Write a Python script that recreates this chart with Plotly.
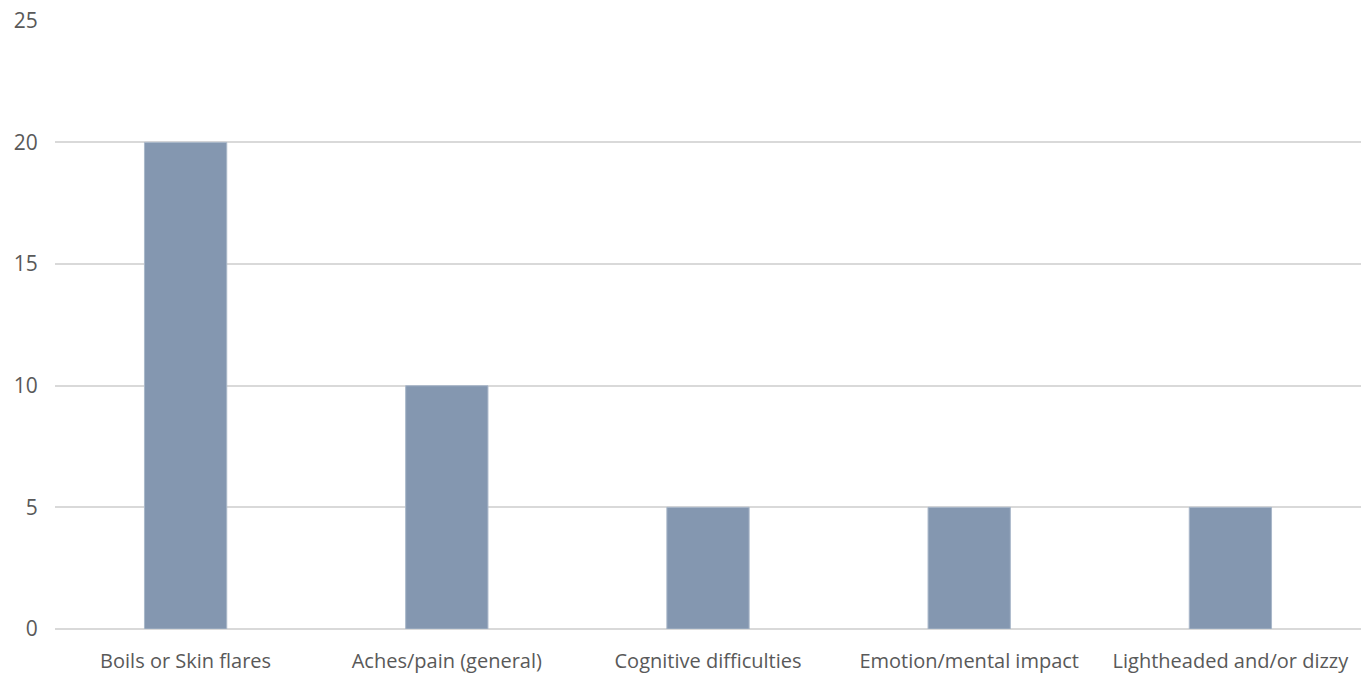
import plotly.graph_objects as go

categories = ["Boils or Skin flares", "Aches/pain (general)", "Cognitive difficulties",
              "Emotion/mental impact", "Lightheaded and/or dizzy"]
values = [20, 10, 5, 5, 5]
y_ticks = [0, 5, 10, 15, 20, 25]

fig = go.Figure(go.Bar(
    x=categories, y=values,
    marker=dict(color="#8497B0", line=dict(color="#A9B7C9", width=1)),
    width=0.315,
))

fig.update_layout(
    width=1367, height=674,
    margin=dict(l=55, r=6, t=20, b=45),
    paper_bgcolor="white", plot_bgcolor="white",
    font=dict(family="Open Sans, Liberation Sans, sans-serif", size=20, color="#595959"),
    showlegend=False,
)
fig.update_xaxes(showgrid=False, showline=False, zeroline=False, automargin=False,
                 ticks="outside", ticklen=14, tickcolor="rgba(0,0,0,0)",
                 tickfont=dict(size=20, color="#595959"))
fig.update_yaxes(range=[0, 25.03], tickvals=y_ticks, showgrid=True, gridcolor="#D9D9D9",
                 gridwidth=1.5, zeroline=True, zerolinecolor="#D9D9D9", zerolinewidth=1.5,
                 showline=False, automargin=False, ticks="outside", ticklen=12,
                 tickcolor="rgba(0,0,0,0)",
                 tickfont=dict(size=21, color="#595959"))

fig.write_html("out.html")
